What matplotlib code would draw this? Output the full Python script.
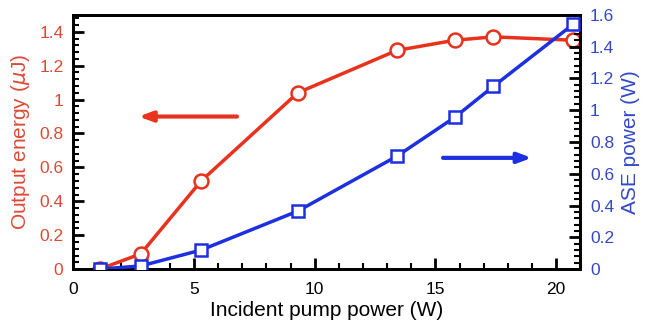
import matplotlib
matplotlib.use("Agg")
import matplotlib.pyplot as plt
from matplotlib.ticker import MultipleLocator

plt.rcParams['font.family'] = ['Liberation Sans', 'DejaVu Sans']

pump = [1.1, 2.8, 5.3, 9.3, 13.4, 15.8, 17.4, 20.7]
energy = [0.0, 0.09, 0.52, 1.04, 1.29, 1.35, 1.37, 1.35]
ase = [0.0, 0.02, 0.12, 0.365, 0.71, 0.955, 1.15, 1.54]

red = '#e8321e'
blue = '#1c30e0'
red_txt = '#dc4a36'
blue_txt = '#3348c8'

fig, ax = plt.subplots(figsize=(6.47, 3.29), dpi=100)
fig.subplots_adjust(left=0.113, right=0.897, bottom=0.182, top=0.955)
ax2 = ax.twinx()

ax.plot(pump, energy, '-o', color=red, lw=2.5, ms=10, mfc='white', mew=1.8, zorder=3)
ax2.plot(pump, ase, '-s', color=blue, lw=2.5, ms=9, mfc='white', mew=1.8, zorder=3)

ax.set_xlim(0, 21)
ax.set_ylim(0, 1.5)
ax2.set_ylim(0, 1.6)

ax.xaxis.set_major_locator(MultipleLocator(5))
ax.xaxis.set_minor_locator(MultipleLocator(1))
ax.yaxis.set_major_locator(MultipleLocator(0.2))
ax.yaxis.set_minor_locator(MultipleLocator(0.04))
ax2.yaxis.set_major_locator(MultipleLocator(0.2))
ax2.yaxis.set_minor_locator(MultipleLocator(0.04))

def fmt(v, pos):
    return ('%.1f' % v).rstrip('0').rstrip('.')
ax.yaxis.set_major_formatter(fmt)
ax2.yaxis.set_major_formatter(fmt)

ax.tick_params(axis='x', which='both', direction='in', top=False, labelsize=12.5, pad=9)
ax.tick_params(axis='y', which='both', direction='in', right=False, labelsize=12.5,
               labelcolor=red_txt, pad=7)
ax2.tick_params(axis='y', which='both', direction='in', labelsize=12.5,
                labelcolor=blue_txt, pad=7)
for a in (ax, ax2):
    a.tick_params(which='major', length=8, width=2)
    a.tick_params(which='minor', length=4, width=1.5)
    for s in a.spines.values():
        s.set_linewidth(2)

ax.set_xlabel('Incident pump power (W)', fontsize=15, labelpad=3)
ax.set_ylabel('Output energy ($\\mu$J)', fontsize=15, color=red_txt, labelpad=5)
ax2.set_ylabel('ASE power (W)', fontsize=15, color=blue_txt, labelpad=5)

ax.annotate('', xy=(2.6, 0.9), xytext=(6.9, 0.9),
            arrowprops=dict(arrowstyle='-|>,head_length=0.8,head_width=0.3',
                            color=red, lw=3))
ax2.annotate('', xy=(19.1, 0.7), xytext=(15.2, 0.7),
             arrowprops=dict(arrowstyle='-|>,head_length=0.8,head_width=0.3',
                             color=blue, lw=3))

fig.savefig('out.png', dpi=100)
